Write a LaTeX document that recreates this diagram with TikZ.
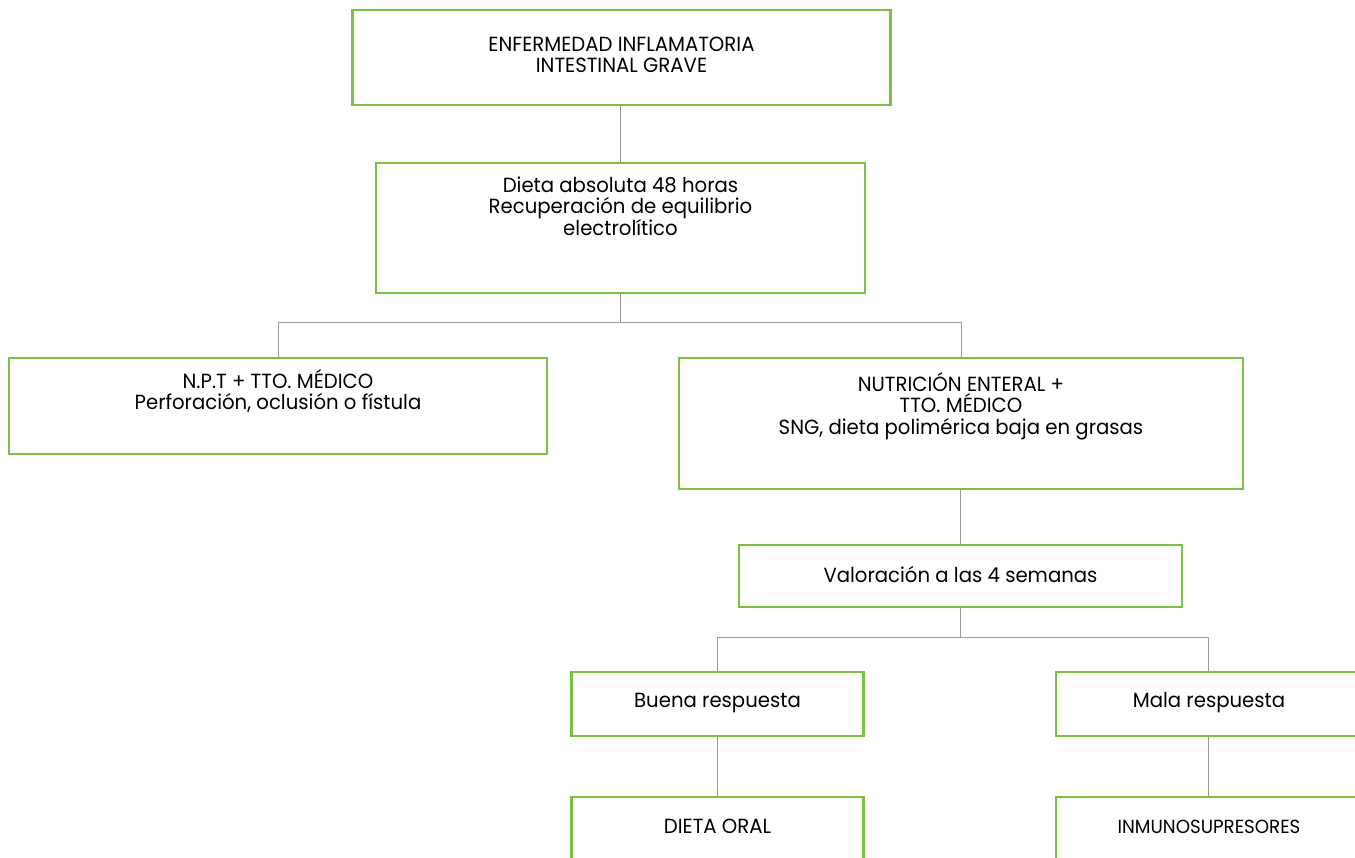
\documentclass[tikz,border=0pt]{standalone}
\usepackage{fontspec}
\setmainfont{Poppins}[FakeStretch=0.96]
% fixed-height strut so the first baseline sits at a known distance from the node top
\newcommand{\toprule}{\rule{0pt}{20pt}}
\begin{document}
\begin{tikzpicture}[x=1pt,y=-1pt,
  box/.style={draw=boxgreen,line width=2.6pt,rectangle,inner sep=0pt},
  txt/.style={anchor=north,align=center,font=\fontsize{20.5}{21.5}\selectfont,inner sep=0pt},
  link/.style={draw=linegray,line width=1pt}]
\definecolor{boxgreen}{HTML}{7AC143}
\definecolor{linegray}{HTML}{9A9A9A}
\useasboundingbox (0,0) rectangle (1355,857);
% boxes
\node[box,minimum width=538pt,minimum height=95pt] (b1) at (621.5,57.5) {};
\node[box,minimum width=489pt,minimum height=130pt] (b2) at (620.5,228) {};
\node[box,minimum width=538pt,minimum height=96pt] (b3) at (278,406) {};
\node[box,minimum width=564pt,minimum height=131pt] (b4) at (961,423.5) {};
\node[box,minimum width=443pt,minimum height=62pt] (b5) at (960.5,576) {};
\node[box,minimum width=292pt,minimum height=64pt] (b6) at (717.5,704) {};
\node[box,minimum width=310pt,minimum height=64pt] (b7) at (1211,704) {};
\node[box,minimum width=292pt,minimum height=80pt] (b8) at (717.5,837) {};
\node[box,minimum width=310pt,minimum height=80pt] (b9) at (1211,837) {};
% texts (north = first baseline - 20pt)
\node[txt] (t1) at (621.5,31) {\toprule ENFERMEDAD INFLAMATORIA\\INTESTINAL GRAVE};
\node[txt] (t2) at (620.5,172) {\toprule Dieta absoluta 48 horas\\Recuperación de equilibrio\\electrolítico};
\node[txt] (t3) at (278,368) {\toprule N.P.T + TTO. MÉDICO\\Perforación, oclusión o fístula};
\node[txt] (t4) at (961,371) {\toprule NUTRICIÓN ENTERAL +\\TTO. MÉDICO\\SNG, dieta polimérica baja en grasas};
\node[txt] (t5) at (960.5,562) {\toprule Valoración a las 4 semanas};
\node[txt] (t6) at (717.5,687) {\toprule Buena respuesta};
\node[txt] (t7) at (1209,687) {\toprule Mala respuesta};
\node[txt] (t8) at (717.5,813) {\toprule DIETA ORAL};
\node[txt,font=\fontsize{19}{21.5}\selectfont] (t9) at (1209,813) {\toprule INMUNOSUPRESORES};
% junction points
\coordinate (j1) at (620.5,322);
\coordinate (j2) at (960.5,637);
% connectors
\path[link] (b1.south -| b2.north) -- (b2.north);
\path[link] (b2.south) -- (j1);
\path[link] (j1) -| (b3.north);
\path[link] (j1) -| (b4.north);
\path[link] (b4.south -| b5.north) -- (b5.north);
\path[link] (b5.south) -- (j2);
\path[link] (j2) -| (b6.north);
\path[link] (j2) -| ([xshift=-3pt]b7.north);
\path[link] (b6.south) -- (b8.north);
\path[link] ([xshift=-3pt]b7.south) -- ([xshift=-3pt]b9.north);
\end{tikzpicture}
\end{document}
